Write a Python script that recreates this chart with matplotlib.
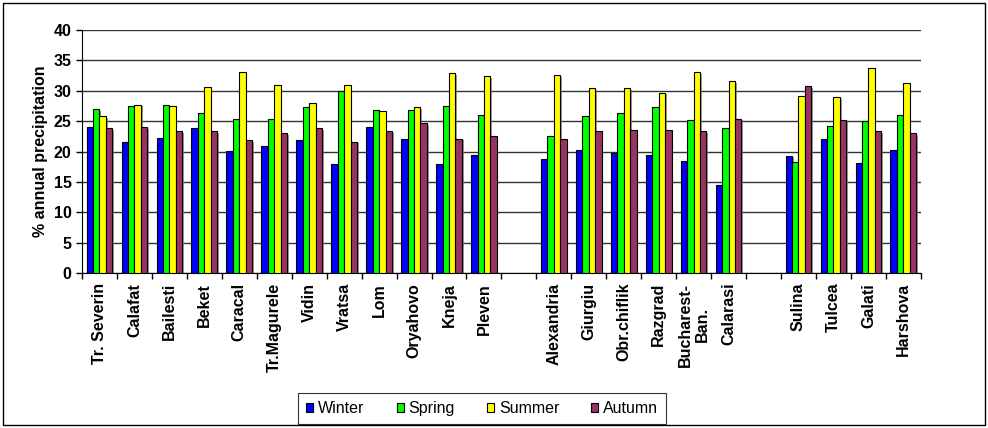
import matplotlib
matplotlib.use('Agg')
import matplotlib.pyplot as plt
import matplotlib.patheffects as pe
from matplotlib.patches import Rectangle, Patch
import numpy as np

plt.rcParams['font.family'] = ['Liberation Sans', 'DejaVu Sans']

# stations, in three groups
stations = ['Tr. Severin', 'Calafat', 'Bailesti', 'Beket', 'Caracal', 'Tr.Magurele',
            'Vidin', 'Vratsa', 'Lom', 'Oryahovo', 'Kneja', 'Pleven',
            'Alexandria', 'Giurgiu', 'Obr.chiflik', 'Razgrad', 'Bucharest-\nBan.', 'Calarasi',
            'Sulina', 'Tulcea', 'Galati', 'Harshova']
group_sizes = [12, 6, 4]

winter = [24.0, 21.6, 22.3, 23.8, 20.1, 20.9, 21.9, 18.0, 24.0, 22.0, 18.0, 19.5,
          18.7, 20.3, 19.7, 19.5, 18.5, 14.5,
          19.3, 22.0, 18.1, 20.3]
spring = [27.0, 27.5, 27.7, 26.4, 25.4, 25.4, 27.3, 29.9, 26.9, 26.9, 27.5, 26.0,
          22.5, 25.8, 26.4, 27.3, 25.2, 23.8,
          18.3, 24.2, 25.0, 26.0]
summer = [25.8, 27.7, 27.5, 30.6, 33.1, 31.0, 27.9, 31.0, 26.6, 27.3, 32.9, 32.4,
          32.6, 30.4, 30.4, 29.7, 33.1, 31.6,
          29.1, 28.9, 33.7, 31.2]
autumn = [23.8, 24.0, 23.4, 23.4, 21.9, 23.0, 23.8, 21.6, 23.4, 24.7, 22.1, 22.5,
          22.1, 23.4, 23.6, 23.6, 23.4, 25.4,
          30.8, 25.2, 23.4, 23.0]

seasons = ['Winter', 'Spring', 'Summer', 'Autumn']
colors = ['#0000FF', '#00FF00', '#FFFF00', '#993366']

# x positions with an empty slot between groups
pos = []
off = 0
for g in group_sizes:
    pos += list(range(off, off + g))
    off += g + 1
pos = np.array(pos)
nslots = off - 1

fs = 11.5

fig = plt.figure(figsize=(9.88, 4.28), dpi=100)
ax = fig.add_axes([0.083, 0.362, 0.849, 0.568])

w = 0.184
shadow = [pe.SimplePatchShadow(offset=(1.2, -1.2), shadow_rgbFace='#707070', alpha=0.7), pe.Normal()]
for i, (vals, c) in enumerate(zip([winter, spring, summer, autumn], colors)):
    bars = ax.bar(pos + (i - 1.5) * w, vals, width=w, color=c, edgecolor='black',
                  linewidth=0.8, zorder=3)
    for b in bars:
        b.set_path_effects(shadow)

ax.set_xlim(-0.5, nslots - 0.5)
ax.set_ylim(0, 40)
ax.set_yticks(np.arange(0, 41, 5))
ax.yaxis.grid(True, color='#333333', linewidth=1.0)
ax.set_axisbelow(True)

ax.set_xticks(pos)
ax.set_xticklabels(stations, rotation=90, fontweight='bold', fontsize=fs,
                   va='top', ha='center', multialignment='center')
ax.set_xticks(np.arange(-0.5, nslots, 1), minor=True)
ax.tick_params(axis='x', which='major', length=0, pad=7)
ax.tick_params(axis='x', which='minor', length=4, width=1, direction='out')
ax.tick_params(axis='y', length=4, width=1, direction='out', labelsize=fs)
for t in ax.get_yticklabels():
    t.set_fontweight('bold')

for s in ['top', 'right']:
    ax.spines[s].set_visible(False)
ax.spines['left'].set_color('black')
ax.spines['bottom'].set_color('black')

ax.set_ylabel('% annual precipitation', fontsize=fs, fontweight='bold')

handles = [Patch(facecolor=c, edgecolor='black', linewidth=0.8) for c in colors]
leg = fig.legend(handles, seasons, loc='center', bbox_to_anchor=(0.488, 0.0456), ncol=4,
                 frameon=True, fancybox=False, edgecolor='black', fontsize=fs,
                 handlelength=0.45, handleheight=0.45, handletextpad=0.3,
                 columnspacing=2.0, borderpad=0.5)
leg.get_frame().set_linewidth(0.8)

fig.add_artist(Rectangle((3 / 988, 3 / 428), 982 / 988, 422 / 428, transform=fig.transFigure,
                         fill=False, edgecolor='black', linewidth=1))

fig.savefig('out.png', dpi=100)
